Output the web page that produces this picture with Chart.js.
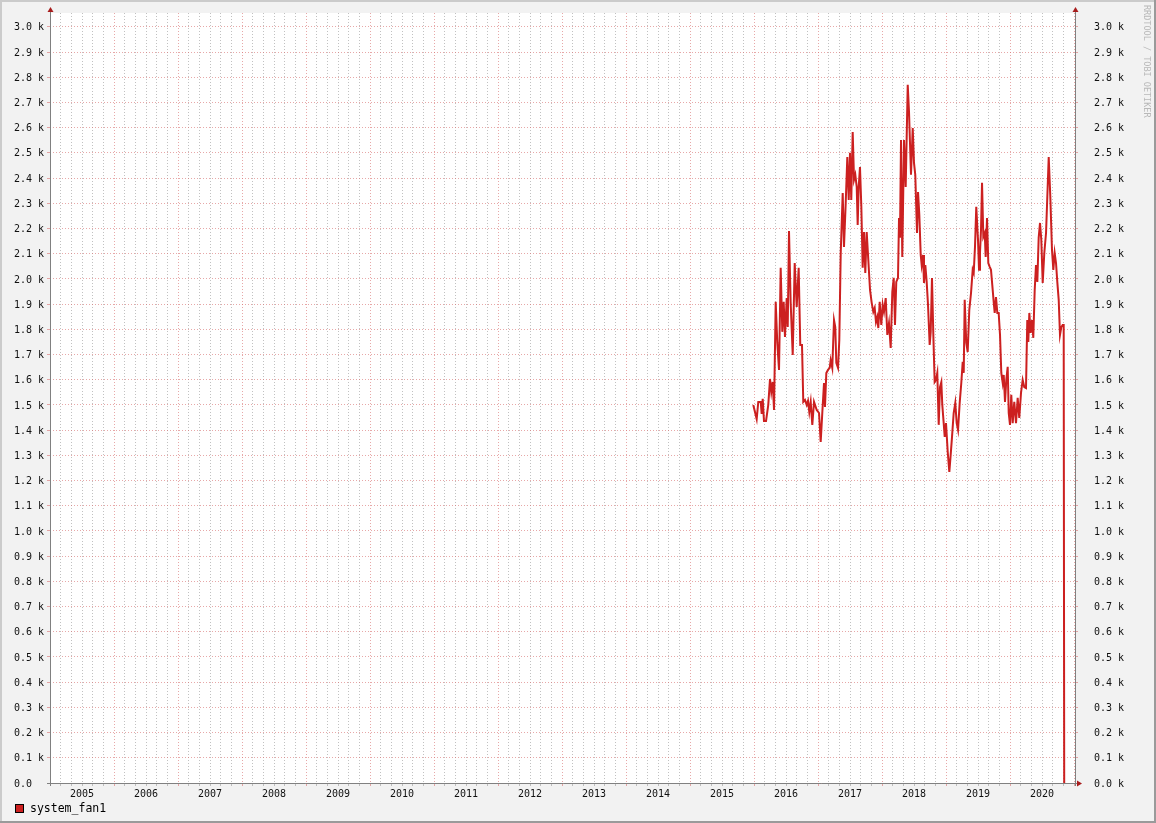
<!DOCTYPE html>
<html>
<head>
<meta charset="utf-8">
<style>
  html, body { margin: 0; padding: 0; background: #f2f2f2; }
  canvas { display: block; }
</style>
</head>
<body>
<canvas id="chart" width="1156" height="823"></canvas>
<script src="https://cdn.jsdelivr.net/npm/chart.js"></script>
<script>
// series label and year labels
const seriesName = 'system_fan1';
const years = ['2005','2006','2007','2008','2009','2010','2011','2012','2013','2014','2015','2016','2017','2018','2019','2020'];
const yTickValues = [0,100,200,300,400,500,600,700,800,900,1000,1100,1200,1300,1400,1500,1600,1700,1800,1900,2000,2100,2200,2300,2400,2500,2600,2700,2800,2900,3000];

// sample times (decimal years) and fan speed (rpm)
const times = [
  2015.989, 2016.042, 2016.067, 2016.105, 2016.120, 2016.136, 2016.156, 2016.188, 2016.223, 2016.250,
  2016.270, 2016.292, 2016.313, 2016.339, 2016.364, 2016.391, 2016.417, 2016.442, 2016.464, 2016.484,
  2016.511, 2016.527, 2016.547, 2016.573, 2016.605, 2016.636, 2016.667, 2016.698, 2016.723, 2016.750,
  2016.770, 2016.797, 2016.823, 2016.844, 2016.864, 2016.886, 2016.911, 2016.938, 2016.980, 2017.016,
  2017.042, 2017.067, 2017.094, 2017.109, 2017.130, 2017.156, 2017.183, 2017.198, 2017.223, 2017.250,
  2017.270, 2017.286, 2017.313, 2017.333, 2017.355, 2017.386, 2017.406, 2017.433, 2017.458, 2017.480,
  2017.500, 2017.520, 2017.542, 2017.563, 2017.583, 2017.605, 2017.620, 2017.636, 2017.656, 2017.677,
  2017.698, 2017.719, 2017.739, 2017.761, 2017.786, 2017.813, 2017.839, 2017.864, 2017.886, 2017.906,
  2017.927, 2017.942, 2017.964, 2017.989, 2018.011, 2018.031, 2018.058, 2018.083, 2018.109, 2018.136,
  2018.161, 2018.183, 2018.203, 2018.223, 2018.250, 2018.266, 2018.281, 2018.297, 2018.317, 2018.344,
  2018.370, 2018.402, 2018.422, 2018.453, 2018.480, 2018.500, 2018.520, 2018.547, 2018.563, 2018.583,
  2018.605, 2018.620, 2018.641, 2018.656, 2018.677, 2018.698, 2018.719, 2018.745, 2018.761, 2018.781,
  2018.802, 2018.823, 2018.844, 2018.864, 2018.886, 2018.906, 2018.927, 2018.942, 2018.964, 2018.980,
  2019.000, 2019.027, 2019.052, 2019.073, 2019.094, 2019.120, 2019.145, 2019.167, 2019.188, 2019.214,
  2019.239, 2019.261, 2019.277, 2019.292, 2019.317, 2019.339, 2019.364, 2019.391, 2019.417, 2019.433,
  2019.453, 2019.473, 2019.500, 2019.516, 2019.531, 2019.547, 2019.563, 2019.583, 2019.605, 2019.620,
  2019.641, 2019.661, 2019.683, 2019.703, 2019.723, 2019.745, 2019.761, 2019.781, 2019.802, 2019.823,
  2019.844, 2019.864, 2019.886, 2019.902, 2019.922, 2019.942, 2019.964, 2019.980, 2020.000, 2020.020,
  2020.042, 2020.067, 2020.094, 2020.120, 2020.145, 2020.172, 2020.198, 2020.223, 2020.250, 2020.270,
  2020.286, 2020.302, 2020.323, 2020.344, 2020.364, 2020.386, 2020.406, 2020.427, 2020.448, 2020.469,
  2020.489, 2020.511, 2020.536, 2020.563, 2020.583, 2020.605, 2020.630, 2020.656, 2020.677, 2020.698,
  2020.719, 2020.739, 2020.761, 2020.781, 2020.802, 2020.823, 2020.839, 2020.847
];
const rpm = [
  1500, 1444, 1512, 1512, 1464, 1524, 1436, 1436, 1500, 1603,
  1551, 1591, 1480, 1909, 1746, 1639, 2044, 1790, 1909, 1770,
  1924, 1809, 2190, 1905, 1698, 2063, 1889, 2044, 1738, 1738,
  1512, 1520, 1500, 1516, 1472, 1512, 1421, 1512, 1480, 1468,
  1353, 1468, 1587, 1492, 1627, 1639, 1647, 1678, 1647, 1837,
  1809, 1667, 1647, 1758, 2103, 2341, 2127, 2301, 2484, 2313,
  2500, 2313, 2583, 2393, 2413, 2365, 2214, 2365, 2444, 2286,
  2044, 2186, 2024, 2186, 2075, 1956, 1905, 1869, 1885, 1829,
  1849, 1805, 1909, 1817, 1897, 1869, 1924, 1778, 1825, 1726,
  1948, 2004, 1817, 1988, 2004, 2242, 2163, 2551, 2087, 2551,
  2365, 2770, 2663, 2413, 2599, 2460, 2413, 2182, 2345, 2254,
  2095, 2055, 2095, 1984, 2055, 1988, 1897, 1738, 1790, 2004,
  1778, 1591, 1599, 1627, 1421, 1571, 1591, 1500, 1428, 1373,
  1428, 1313, 1234, 1302, 1373, 1468, 1508, 1428, 1401, 1508,
  1587, 1671, 1627, 1917, 1746, 1710, 1877, 1944, 2036, 2024,
  2127, 2286, 2155, 2036, 2103, 2194, 2381, 2167, 2182, 2087,
  2242, 2063, 2048, 2036, 1976, 1909, 1865, 1928, 1865, 1865,
  1778, 1627, 1587, 1619, 1512, 1599, 1651, 1468, 1421, 1540,
  1428, 1512, 1428, 1528, 1448, 1548, 1599, 1571, 1567, 1837,
  1750, 1865, 1786, 1837, 1766, 1956, 2055, 1988, 2163, 2222,
  2155, 1984, 2103, 2182, 2325, 2484, 2325, 2115, 2036, 2103,
  2063, 1988, 1917, 1778, 1809, 1817, 1817, 0
];

const MONO = "'DejaVu Sans Mono', monospace";
const majorGrid = 'rgba(215,110,110,0.6)';
const minorGrid = 'rgba(160,160,160,0.65)';
const lineColor = '#cc2020';
const arrowColor = '#a81c1c';
const axisColor = '#808080';

// x ticks every two months, label in the middle of each year
const xTicks = [];
years.forEach(y => { for (let k = 0; k < 6; k++) xTicks.push({ value: +y + k / 6, label: k === 3 ? y : '' }); });
xTicks.push({ value: +years[years.length - 1] + 1, label: '' });

const yMax = 3055;

const rrdFrame = {
  id: 'rrdFrame',
  beforeDraw(chart) {
    const { ctx, width, height, chartArea: a } = chart;
    ctx.save();
    ctx.fillStyle = '#f2f2f2';
    ctx.fillRect(0, 0, width, height);
    ctx.fillStyle = '#ffffff';
    ctx.fillRect(a.left, a.top, a.right - a.left, a.bottom - a.top);
    ctx.fillStyle = '#cbcbcb';
    ctx.fillRect(0, 0, width, 2);
    ctx.fillRect(0, 0, 2, height);
    ctx.fillStyle = '#9a9a9a';
    ctx.fillRect(0, height - 2, width, 2);
    ctx.fillRect(width - 2, 0, 2, height);
    ctx.restore();
  },
  afterDraw(chart) {
    const { ctx, chartArea: a } = chart;
    ctx.save();
    // axes
    ctx.strokeStyle = axisColor;
    ctx.lineWidth = 1;
    ctx.beginPath();
    ctx.moveTo(a.left + 0.5, 10); ctx.lineTo(a.left + 0.5, a.bottom + 3);
    ctx.moveTo(a.right + 0.5, 10); ctx.lineTo(a.right + 0.5, a.bottom + 3);
    ctx.moveTo(a.left - 3, a.bottom + 0.5); ctx.lineTo(a.right + 5, a.bottom + 0.5);
    ctx.stroke();
    // arrows
    ctx.fillStyle = arrowColor;
    [a.left + 0.5, a.right + 0.5].forEach(x => {
      ctx.beginPath();
      ctx.moveTo(x - 3, 12); ctx.lineTo(x + 3, 12); ctx.lineTo(x, 7); ctx.closePath(); ctx.fill();
    });
    ctx.beginPath();
    ctx.moveTo(a.right + 2, a.bottom - 2.5); ctx.lineTo(a.right + 2, a.bottom + 3.5); ctx.lineTo(a.right + 7, a.bottom + 0.5);
    ctx.closePath(); ctx.fill();
    // legend
    ctx.fillStyle = lineColor;
    ctx.fillRect(15, 804, 9, 9);
    ctx.strokeStyle = '#000';
    ctx.strokeRect(15.5, 804.5, 8, 8);
    ctx.fillStyle = '#000';
    ctx.font = '11.5px ' + MONO;
    ctx.textBaseline = 'middle';
    ctx.textAlign = 'left';
    ctx.fillText(chart.data.datasets[0].label, 30, 809);
    // watermark
    ctx.translate(1146, 5);
    ctx.rotate(Math.PI / 2);
    ctx.fillStyle = '#b8b8b8';
    ctx.font = '8.5px ' + MONO;
    ctx.fillText('RRDTOOL / TOBI OETIKER', 0, 0);
    ctx.restore();
  }
};

function yLabel(v, withK) {
  if (v === 0 && !withK) return '0.0';
  return (v / 1000).toFixed(1) + ' k';
}

function fitY(width) {
  return s => { s.width = width; s.paddingTop = 0; s.paddingBottom = 0; };
}

new Chart(document.getElementById('chart').getContext('2d'), {
  type: 'line',
  data: {
    datasets: [{
      label: seriesName,
      data: times.map((t, i) => ({ x: t, y: rpm[i] })),
      borderColor: lineColor,
      backgroundColor: lineColor,
      borderWidth: 2,
      pointRadius: 0,
      tension: 0,
      fill: false
    }]
  },
  options: {
    responsive: false,
    animation: false,
    events: [],
    layout: { padding: { left: 14, top: 13, right: 21, bottom: 0 } },
    plugins: { legend: { display: false }, tooltip: { enabled: false } },
    scales: {
      x: {
        type: 'linear',
        min: 2005,
        max: 2005 + 1025 / 64,
        afterBuildTicks: s => { s.ticks = xTicks.map(t => ({ value: t.value })); },
        afterFit: s => { s.height = 40; s.paddingLeft = 0; s.paddingRight = 0; },
        border: { display: false, dash: [1, 2] },
        grid: {
          color: c => (c.index % 6 === 0 ? majorGrid : minorGrid),
          tickColor: c => (c.index % 6 === 0 ? majorGrid : minorGrid),
          lineWidth: 1,
          tickLength: 3
        },
        ticks: {
          autoSkip: false,
          maxRotation: 0,
          padding: 2,
          color: '#111',
          font: { family: MONO, size: 10 },
          callback: (v, i) => xTicks[i] ? xTicks[i].label : ''
        }
      },
      y: {
        position: 'left',
        min: 0,
        max: yMax,
        afterBuildTicks: s => { s.ticks = yTickValues.map(v => ({ value: v })); },
        afterFit: fitY(36),
        border: { display: false, dash: [1, 2] },
        grid: { color: majorGrid, tickColor: majorGrid, tickLength: 3 },
        ticks: {
          crossAlign: 'far',
          labelOffset: 1,
          color: '#111',
          font: { family: MONO, size: 10 },
          callback: v => yLabel(v, false)
        }
      },
      y2: {
        position: 'right',
        min: 0,
        max: yMax,
        afterBuildTicks: s => { s.ticks = yTickValues.map(v => ({ value: v })); },
        afterFit: fitY(60),
        border: { display: false },
        grid: { drawOnChartArea: false, color: majorGrid, tickColor: majorGrid, tickLength: 3 },
        ticks: {
          padding: 16,
          labelOffset: 1,
          color: '#111',
          font: { family: MONO, size: 10 },
          callback: v => yLabel(v, true)
        }
      }
    }
  },
  plugins: [rrdFrame]
});
</script>
</body>
</html>
